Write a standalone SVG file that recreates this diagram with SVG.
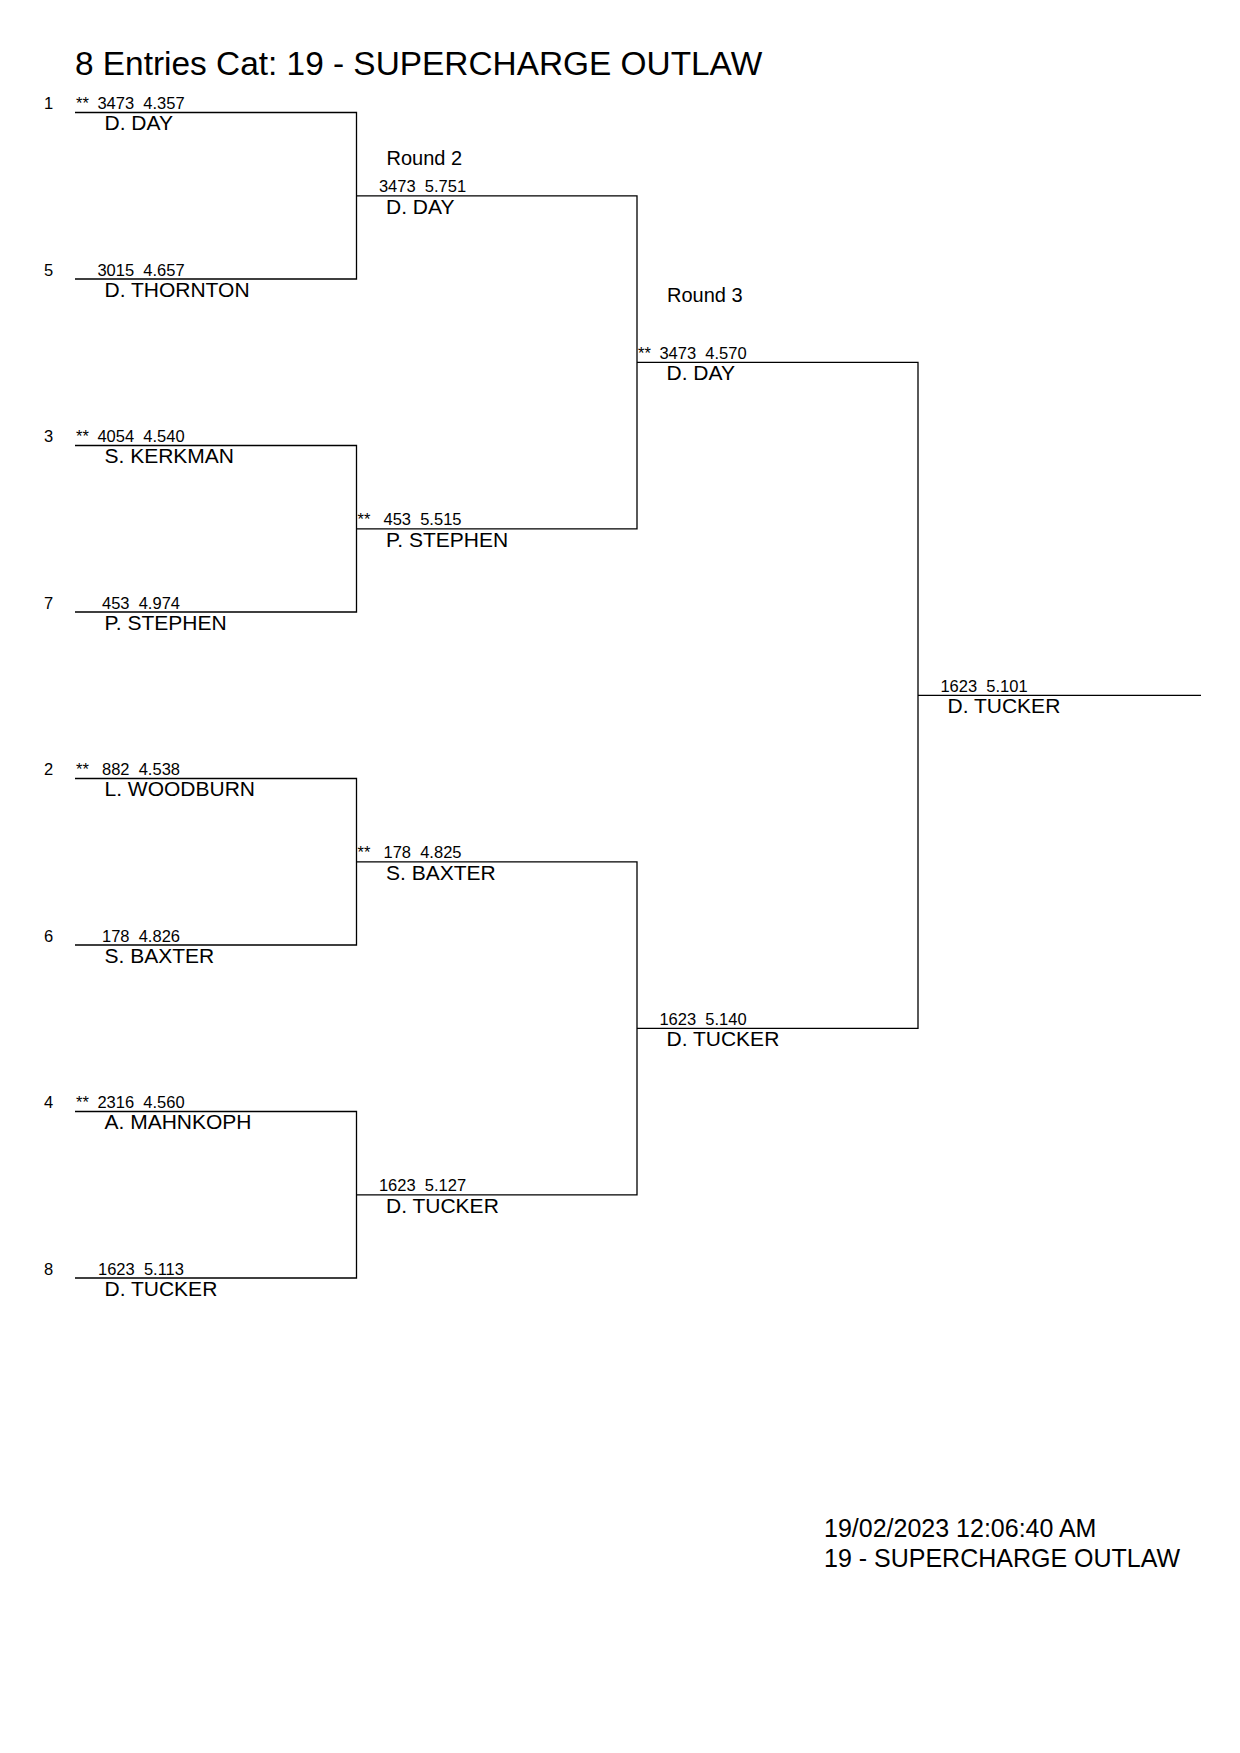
<svg xmlns="http://www.w3.org/2000/svg" width="1240" height="1753" viewBox="0 0 1240 1753">
<style>
text{font-family:"Liberation Sans",Arial,Helvetica,sans-serif;fill:#000;white-space:pre}
.t{font-size:33.4px}
.f{font-size:25px}
.r{font-size:20px}
.s{font-size:16.5px}
.n{font-size:21px}
.m{text-anchor:middle}
.c{fill:none;stroke:#000;stroke-width:1.3}
</style>
<rect width="1240" height="1753" fill="#fff"/>
<text class="t" x="75" y="75">8 Entries Cat: 19 - SUPERCHARGE OUTLAW</text>
<g id="connectors">
<path class="c" d="M75 112.5H356.5V279H75"/>
<path class="c" d="M75 445.5H356.5V612H75"/>
<path class="c" d="M75 778.5H356.5V945H75"/>
<path class="c" d="M75 1111.5H356.5V1278H75"/>
<path class="c" d="M356.5 195.8H637V528.8H356.5"/>
<path class="c" d="M356.5 861.8H637V1194.8H356.5"/>
<path class="c" d="M637 362.3H918V1028.3H637"/>
<path class="c" d="M918 695.3H1201"/>
</g>
<g id="seed1"><text class="s" x="44" y="109.1">1</text><text class="s" x="76" y="109.1">**</text><text class="s m" x="141" y="109.1">3473  4.357</text><text class="n" x="104.5" y="130.3">D. DAY</text></g>
<g id="seed5"><text class="s" x="44" y="275.6">5</text><text class="s m" x="141" y="275.6">3015  4.657</text><text class="n" x="104.5" y="296.8">D. THORNTON</text></g>
<g id="seed3"><text class="s" x="44" y="442.1">3</text><text class="s" x="76" y="442.1">**</text><text class="s m" x="141" y="442.1">4054  4.540</text><text class="n" x="104.5" y="463.3">S. KERKMAN</text></g>
<g id="seed7"><text class="s" x="44" y="608.6">7</text><text class="s m" x="141" y="608.6">453  4.974</text><text class="n" x="104.5" y="629.8">P. STEPHEN</text></g>
<g id="seed2"><text class="s" x="44" y="775.1">2</text><text class="s" x="76" y="775.1">**</text><text class="s m" x="141" y="775.1">882  4.538</text><text class="n" x="104.5" y="796.3">L. WOODBURN</text></g>
<g id="seed6"><text class="s" x="44" y="941.6">6</text><text class="s m" x="141" y="941.6">178  4.826</text><text class="n" x="104.5" y="962.8">S. BAXTER</text></g>
<g id="seed4"><text class="s" x="44" y="1108.1">4</text><text class="s" x="76" y="1108.1">**</text><text class="s m" x="141" y="1108.1">2316  4.560</text><text class="n" x="104.5" y="1129.3">A. MAHNKOPH</text></g>
<g id="seed8"><text class="s" x="44" y="1274.6">8</text><text class="s m" x="141" y="1274.6">1623  5.113</text><text class="n" x="104.5" y="1295.8">D. TUCKER</text></g>
<text class="r" x="386.5" y="165">Round 2</text>
<g id="r2a"><text class="s m" x="422.5" y="192.4">3473  5.751</text><text class="n" x="386" y="213.6">D. DAY</text></g>
<g id="r2b"><text class="s" x="357.5" y="525.4">**</text><text class="s m" x="422.5" y="525.4">453  5.515</text><text class="n" x="386" y="546.6">P. STEPHEN</text></g>
<g id="r2c"><text class="s" x="357.5" y="858.4">**</text><text class="s m" x="422.5" y="858.4">178  4.825</text><text class="n" x="386" y="879.6">S. BAXTER</text></g>
<g id="r2d"><text class="s m" x="422.5" y="1191.4">1623  5.127</text><text class="n" x="386" y="1212.6">D. TUCKER</text></g>
<text class="r" x="667" y="302">Round 3</text>
<g id="r3a"><text class="s" x="638" y="358.9">**</text><text class="s m" x="703" y="358.9">3473  4.570</text><text class="n" x="666.5" y="380.1">D. DAY</text></g>
<g id="r3b"><text class="s m" x="703" y="1024.9">1623  5.140</text><text class="n" x="666.5" y="1046.1">D. TUCKER</text></g>
<g id="final"><text class="s m" x="984" y="691.9">1623  5.101</text><text class="n" x="947.5" y="713.1">D. TUCKER</text></g>
<g id="footer"><text class="f" x="824" y="1537">19/02/2023 12:06:40 AM</text><text class="f" x="824" y="1567">19 - SUPERCHARGE OUTLAW</text></g>
</svg>
